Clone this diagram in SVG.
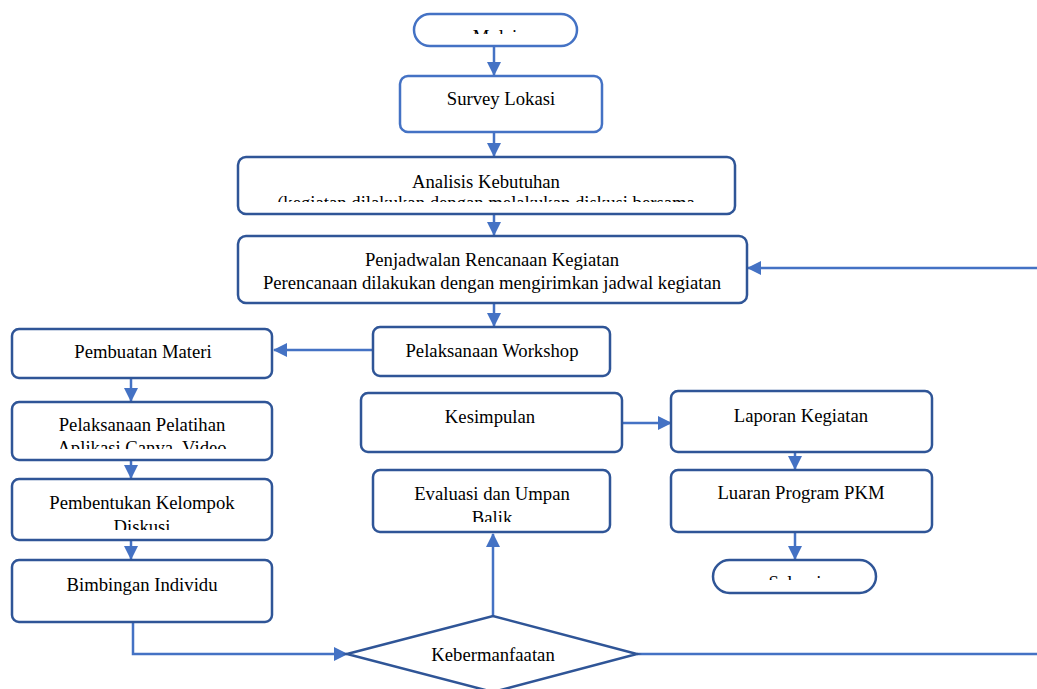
<svg xmlns="http://www.w3.org/2000/svg" width="1037" height="689" viewBox="0 0 1037 689">
<style>
.box{fill:#fff;stroke:#2F5597;stroke-width:2.5}
.lbox{fill:#fff;stroke:#4472C4;stroke-width:2.5}
.t{font-family:"Liberation Serif","Times New Roman",serif;font-size:18.7px;fill:#000;text-anchor:middle}
.c{fill:none;stroke:#4472C4;stroke-width:2.5}
</style>
<defs>
<marker id="ah" markerUnits="userSpaceOnUse" markerWidth="14" markerHeight="14" refX="13" refY="7" orient="auto">
<path d="M0,0 L14,7 L0,14 z" fill="#4472C4"/>
</marker>
<clipPath id="cMulai"><rect x="400" y="0" width="200" height="34"/></clipPath>
<clipPath id="cSelesai"><rect x="700" y="560" width="200" height="20"/></clipPath>
<clipPath id="cAnalisis"><rect x="238" y="157" width="498" height="45"/></clipPath>
<clipPath id="cPelatihan"><rect x="12" y="402" width="261" height="47"/></clipPath>
<clipPath id="cKelompok"><rect x="12" y="479" width="261" height="51"/></clipPath>
<clipPath id="cEval"><rect x="373" y="470" width="238" height="52"/></clipPath>
</defs>

<g id="connectors">
<line class="c" x1="494" y1="46" x2="494" y2="75" marker-end="url(#ah)"/>
<line class="c" x1="494" y1="132" x2="494" y2="156" marker-end="url(#ah)"/>
<line class="c" x1="494" y1="214" x2="494" y2="235" marker-end="url(#ah)"/>
<line class="c" x1="1037" y1="268" x2="748" y2="268" marker-end="url(#ah)"/>
<line class="c" x1="494" y1="304" x2="494" y2="326" marker-end="url(#ah)"/>
<line class="c" x1="373" y1="350" x2="274" y2="350" marker-end="url(#ah)"/>
<line class="c" x1="131" y1="379" x2="131" y2="401" marker-end="url(#ah)"/>
<line class="c" x1="131" y1="460" x2="131" y2="478" marker-end="url(#ah)"/>
<line class="c" x1="131" y1="540" x2="131" y2="559" marker-end="url(#ah)"/>
<polyline class="c" points="133,622 133,654 347,654" marker-end="url(#ah)"/>
<line class="c" x1="493" y1="616" x2="493" y2="534" marker-end="url(#ah)"/>
<line class="c" x1="637" y1="654" x2="1037" y2="654"/>
<line class="c" x1="622" y1="423" x2="671" y2="423" marker-end="url(#ah)"/>
<line class="c" x1="795" y1="452" x2="795" y2="469" marker-end="url(#ah)"/>
<line class="c" x1="795" y1="533" x2="795" y2="559" marker-end="url(#ah)"/>
</g>

<g id="mulai">
<rect class="lbox" x="414" y="14" width="163" height="32" rx="16"/>
<text class="t" x="495" y="43" clip-path="url(#cMulai)">Mulai</text>
</g>
<g id="survey">
<rect class="lbox" x="400" y="76" width="202" height="56" rx="8"/>
<text class="t" x="501" y="105">Survey Lokasi</text>
</g>
<g id="analisis">
<rect class="box" x="238" y="157" width="497" height="57" rx="8"/>
<g clip-path="url(#cAnalisis)">
<text class="t" x="486" y="188">Analisis Kebutuhan</text>
<text class="t" x="486" y="209">(kegiatan dilakukan dengan melakukan diskusi bersama</text>
</g>
</g>
<g id="penjadwalan">
<rect class="box" x="238" y="236" width="509" height="67" rx="8"/>
<text class="t" x="492" y="266">Penjadwalan Rencanaan Kegiatan</text>
<text class="t" x="492" y="289">Perencanaan dilakukan dengan mengirimkan jadwal kegiatan</text>
</g>
<g id="workshop">
<rect class="box" x="373" y="327" width="237" height="49" rx="7"/>
<text class="t" x="492" y="357">Pelaksanaan Workshop</text>
</g>
<g id="materi">
<rect class="box" x="12" y="329" width="260" height="49" rx="7"/>
<text class="t" x="143" y="358">Pembuatan Materi</text>
</g>
<g id="pelatihan">
<rect class="box" x="12" y="402" width="260" height="58" rx="7"/>
<g clip-path="url(#cPelatihan)">
<text class="t" x="142" y="431">Pelaksanaan Pelatihan</text>
<text class="t" x="142" y="454">Aplikasi Canva, Video</text>
</g>
</g>
<g id="kelompok">
<rect class="box" x="12" y="479" width="260" height="61" rx="7"/>
<g clip-path="url(#cKelompok)">
<text class="t" x="142" y="509">Pembentukan Kelompok</text>
<text class="t" x="142" y="533">Diskusi</text>
</g>
</g>
<g id="bimbingan">
<rect class="box" x="12" y="560" width="260" height="62" rx="7"/>
<text class="t" x="142" y="591">Bimbingan Individu</text>
</g>
<g id="kebermanfaatan">
<polygon class="box" points="347,654 493,616 637,654 493,692"/>
<text class="t" x="493" y="661">Kebermanfaatan</text>
</g>
<g id="evaluasi">
<rect class="box" x="373" y="470" width="237" height="62" rx="7"/>
<g clip-path="url(#cEval)">
<text class="t" x="492" y="500">Evaluasi dan Umpan</text>
<text class="t" x="492" y="524">Balik</text>
</g>
</g>
<g id="kesimpulan">
<rect class="box" x="361" y="393" width="261" height="59" rx="7"/>
<text class="t" x="490" y="423">Kesimpulan</text>
</g>
<g id="laporan">
<rect class="box" x="671" y="391" width="261" height="61" rx="7"/>
<text class="t" x="801" y="422">Laporan Kegiatan</text>
</g>
<g id="luaran">
<rect class="box" x="671" y="470" width="261" height="62" rx="7"/>
<text class="t" x="801" y="499">Luaran Program PKM</text>
</g>
<g id="selesai">
<rect class="box" x="713" y="560" width="163" height="33" rx="16.5"/>
<text class="t" x="795" y="589" clip-path="url(#cSelesai)">Selesai</text>
</g>
</svg>
